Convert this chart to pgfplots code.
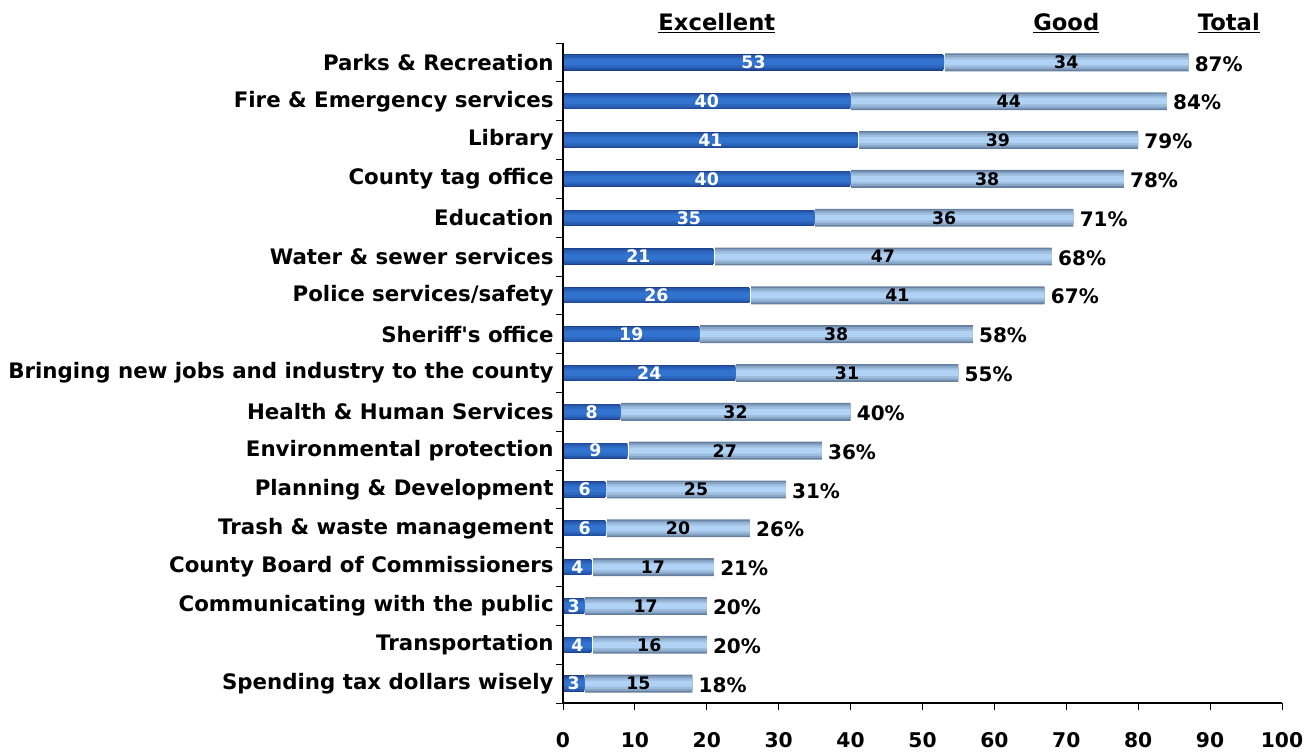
\documentclass[border=0pt]{standalone}
\usepackage{fontspec}
\setmainfont{DejaVu Sans}[Ligatures=TeXOff]
\usepackage{pgfplots}
\usepackage{pgfplotstable}
\pgfplotsset{compat=1.18}

\definecolor{exEdge}{HTML}{1A3F88}
\definecolor{exMid}{HTML}{3273D0}
\definecolor{gdEdge}{HTML}{667F9E}
\definecolor{gdMid}{HTML}{B0D2F4}

% idx: 16 = top row (Parks & Recreation), 0 = bottom row
\pgfplotstableread{
idx E  G  T
16  53 34 87
15  40 44 84
14  41 39 79
13  40 38 78
12  35 36 71
11  21 47 68
10  26 41 67
9   19 38 58
8   24 31 55
7   8  32 40
6   9  27 36
5   6  25 31
4   6  20 26
3   4  17 21
2   3  17 20
1   4  16 20
0   3  15 18
}\data

\newcommand{\catfont}{\fontsize{16}{18}\selectfont\bfseries}
\newcommand{\tickfont}{\fontsize{15.2}{18}\selectfont\bfseries}
\newcommand{\valfont}{\fontsize{13}{14}\selectfont\bfseries}
\newcommand{\totfont}{\fontsize{15}{18}\selectfont\bfseries}
\newcommand{\headfont}{\fontsize{17}{20}\selectfont\bfseries}

\pgfplotsset{
  layer/.style={xbar, bar shift=0pt, draw=none, forget plot},
}

\begin{document}
\begin{tikzpicture}
\begin{axis}[
  name=ax,
  scale only axis,
  width=539.25pt, height=495pt,
  xmin=0, xmax=100, ymin=-0.5, ymax=16.5,
  axis x line*=bottom, axis y line*=left,
  axis on top,
  clip=false,
  xtick={0,10,...,100},
  ytick={0,...,16},
  yticklabels={Spending tax dollars wisely, Transportation, Communicating with the public,
    County Board of Commissioners, Trash \& waste management, Planning \& Development,
    Environmental protection, Health \& Human Services,
    Bringing new jobs and industry to the county, Sheriff's office,
    Police services/safety, Water \& sewer services, Education, County tag office,
    Library, Fire \& Emergency services, Parks \& Recreation},
  minor ytick={-0.5,0.5,...,16.5},
  tick align=outside,
  major tick length=5.5pt,
  minor tick length=5pt,
  major y tick style={draw=none},
  minor y tick style={black, line width=0.6pt},
  major x tick style={black, line width=0.6pt},
  axis line style={black, line width=0.8pt},
  /pgf/number format/assume math mode=true,
  xticklabel style={font=\tickfont, yshift=-13pt},
  yticklabel style={font=\catfont, xshift=2pt},
]
% Good segment (drawn as full bar E+G), stepped vertical gradient
\addplot[layer, bar width=13.4pt, fill=gdEdge]        table[x expr=\thisrow{E}+\thisrow{G}, y=idx] {\data};
\addplot[layer, bar width=11pt,   fill=gdMid!45!gdEdge] table[x expr=\thisrow{E}+\thisrow{G}, y=idx] {\data};
\addplot[layer, bar width=8pt,    fill=gdMid!75!gdEdge] table[x expr=\thisrow{E}+\thisrow{G}, y=idx] {\data};
\addplot[layer, bar width=4.5pt,  fill=gdMid]         table[x expr=\thisrow{E}+\thisrow{G}, y=idx] {\data};
% Excellent segment on top
\addplot[xbar, bar shift=0pt, forget plot, bar width=13.4pt, fill=exEdge, draw=white, line width=1.2pt] table[x=E, y=idx] {\data};
\addplot[layer, bar width=11pt,   fill=exMid!45!exEdge] table[x=E, y=idx] {\data};
\addplot[layer, bar width=8pt,    fill=exMid!78!exEdge] table[x=E, y=idx] {\data};
\addplot[layer, bar width=4.5pt,  fill=exMid]         table[x=E, y=idx] {\data};
% value labels
\addplot[only marks, mark size=0pt, mark options={draw=none, fill=none},
  nodes near coords, point meta=explicit symbolic,
  every node near coord/.style={anchor=center, font=\valfont, text=white, inner sep=0pt}]
  table[x expr=\thisrow{E}/2, y=idx, meta=E] {\data};
\addplot[only marks, mark size=0pt, mark options={draw=none, fill=none},
  nodes near coords, point meta=explicit symbolic,
  every node near coord/.style={anchor=center, font=\valfont, text=black, inner sep=0pt}]
  table[x expr=\thisrow{E}+\thisrow{G}/2, y=idx, meta=G] {\data};
\addplot[only marks, mark size=0pt, mark options={draw=none, fill=none},
  nodes near coords={\pgfplotspointmeta\%}, point meta=explicit symbolic,
  every node near coord/.style={anchor=west, font=\totfont, text=black, inner sep=0pt, xshift=4.5pt, yshift=-1pt}]
  table[x expr=\thisrow{E}+\thisrow{G}, y=idx, meta=T] {\data};
% column headers
\node[font=\headfont, anchor=center] at (axis cs:21.4,16.5) [yshift=15pt] {\underline{Excellent}};
\node[font=\headfont, anchor=center] at (axis cs:70.0,16.5) [yshift=15pt] {\underline{Good}};
\node[font=\headfont, anchor=center] at (axis cs:92.6,16.5) [yshift=15pt] {\underline{Total}};
\end{axis}
\pgfresetboundingbox
\path (ax.south west) ++(-422.25pt,-36.75pt) rectangle ++(982.5pt,564pt);
\end{tikzpicture}
\end{document}
